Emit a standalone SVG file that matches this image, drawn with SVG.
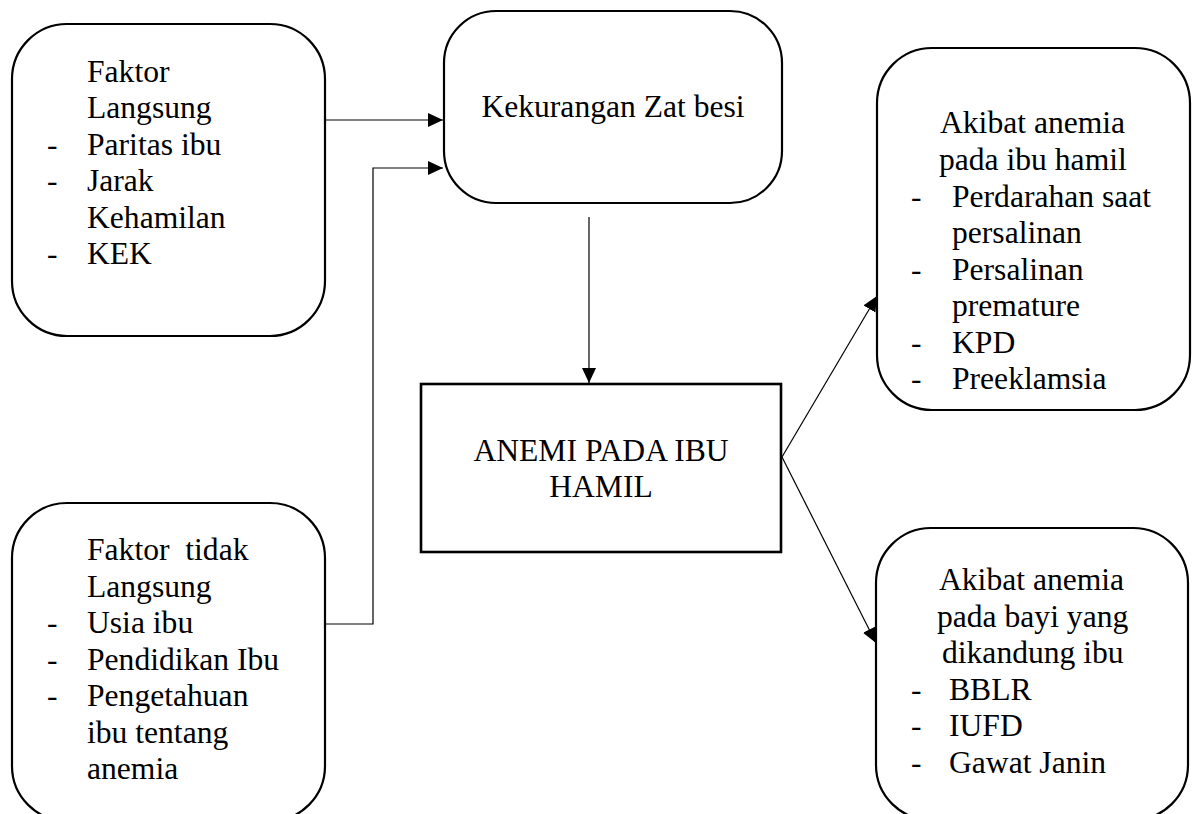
<svg xmlns="http://www.w3.org/2000/svg" width="1199" height="814" viewBox="0 0 1199 814">
<style>
.box{fill:#fff;stroke:#000;stroke-width:2.2}
.c{fill:none;stroke:#000;stroke-width:1.2}
text{font-family:"Liberation Serif","Times New Roman",Times,"Nimbus Roman","Noto Serif","DejaVu Serif",serif;font-size:31.6px;fill:#000}
</style>
<defs>
<marker id="ah" markerUnits="userSpaceOnUse" markerWidth="16" markerHeight="16" refX="15" refY="7" orient="auto">
<path d="M0,0 L15,7 L0,14 z" fill="#000"/>
</marker>
</defs>
<rect width="1199" height="814" fill="#fff"/>
<g id="connectors">
<line class="c" x1="325" y1="120" x2="443" y2="120" marker-end="url(#ah)"/>
<polyline class="c" points="325,624 373,624 373,168 443,168" marker-end="url(#ah)"/>
<line class="c" x1="589" y1="217" x2="589" y2="383" marker-end="url(#ah)"/>
<line class="c" x1="782" y1="457" x2="877" y2="296" marker-end="url(#ah)"/>
<line class="c" x1="782" y1="457" x2="876" y2="643" marker-end="url(#ah)"/>
</g>
<g id="faktor-langsung">
<rect class="box" x="12" y="24" width="313" height="312" rx="55"/>
<text x="87" y="82">Faktor</text>
<text x="87" y="118">Langsung</text>
<text x="47" y="155">-</text><text x="87" y="155">Paritas ibu</text>
<text x="47" y="191">-</text><text x="87" y="191">Jarak</text>
<text x="87" y="228">Kehamilan</text>
<text x="47" y="264">-</text><text x="87" y="264">KEK</text>
</g>
<g id="faktor-tidak-langsung">
<rect class="box" x="12" y="503" width="313" height="318" rx="55"/>
<text x="87" y="560" xml:space="preserve">Faktor  tidak</text>
<text x="87" y="597">Langsung</text>
<text x="47" y="633">-</text><text x="87" y="633">Usia ibu</text>
<text x="47" y="670">-</text><text x="87" y="670">Pendidikan Ibu</text>
<text x="47" y="706">-</text><text x="87" y="706">Pengetahuan</text>
<text x="87" y="743">ibu tentang</text>
<text x="87" y="779">anemia</text>
</g>
<g id="kekurangan-zat-besi">
<rect class="box" x="444" y="11" width="338" height="192" rx="52"/>
<text x="613" y="117" text-anchor="middle">Kekurangan Zat besi</text>
</g>
<g id="anemi">
<rect class="box" x="421" y="384" width="360" height="168" style="stroke-width:2.6"/>
<text x="601" y="461" text-anchor="middle">ANEMI PADA IBU</text>
<text x="601" y="497" text-anchor="middle">HAMIL</text>
</g>
<g id="akibat-ibu">
<rect class="box" x="877" y="48" width="313" height="362" rx="55"/>
<text x="940" y="133">Akibat anemia</text>
<text x="939" y="170">pada ibu hamil</text>
<text x="911" y="207">-</text><text x="952" y="207">Perdarahan saat</text>
<text x="952" y="243">persalinan</text>
<text x="911" y="280">-</text><text x="952" y="280">Persalinan</text>
<text x="952" y="316">premature</text>
<text x="911" y="353">-</text><text x="952" y="353">KPD</text>
<text x="911" y="389">-</text><text x="952" y="389">Preeklamsia</text>
</g>
<g id="akibat-bayi">
<rect class="box" x="876" y="528" width="312" height="292" rx="55"/>
<text x="939" y="590">Akibat anemia</text>
<text x="937" y="627">pada bayi yang</text>
<text x="942" y="663">dikandung ibu</text>
<text x="911" y="700">-</text><text x="949" y="700">BBLR</text>
<text x="911" y="736">-</text><text x="949" y="736">IUFD</text>
<text x="911" y="773">-</text><text x="949" y="773">Gawat Janin</text>
</g>
</svg>
